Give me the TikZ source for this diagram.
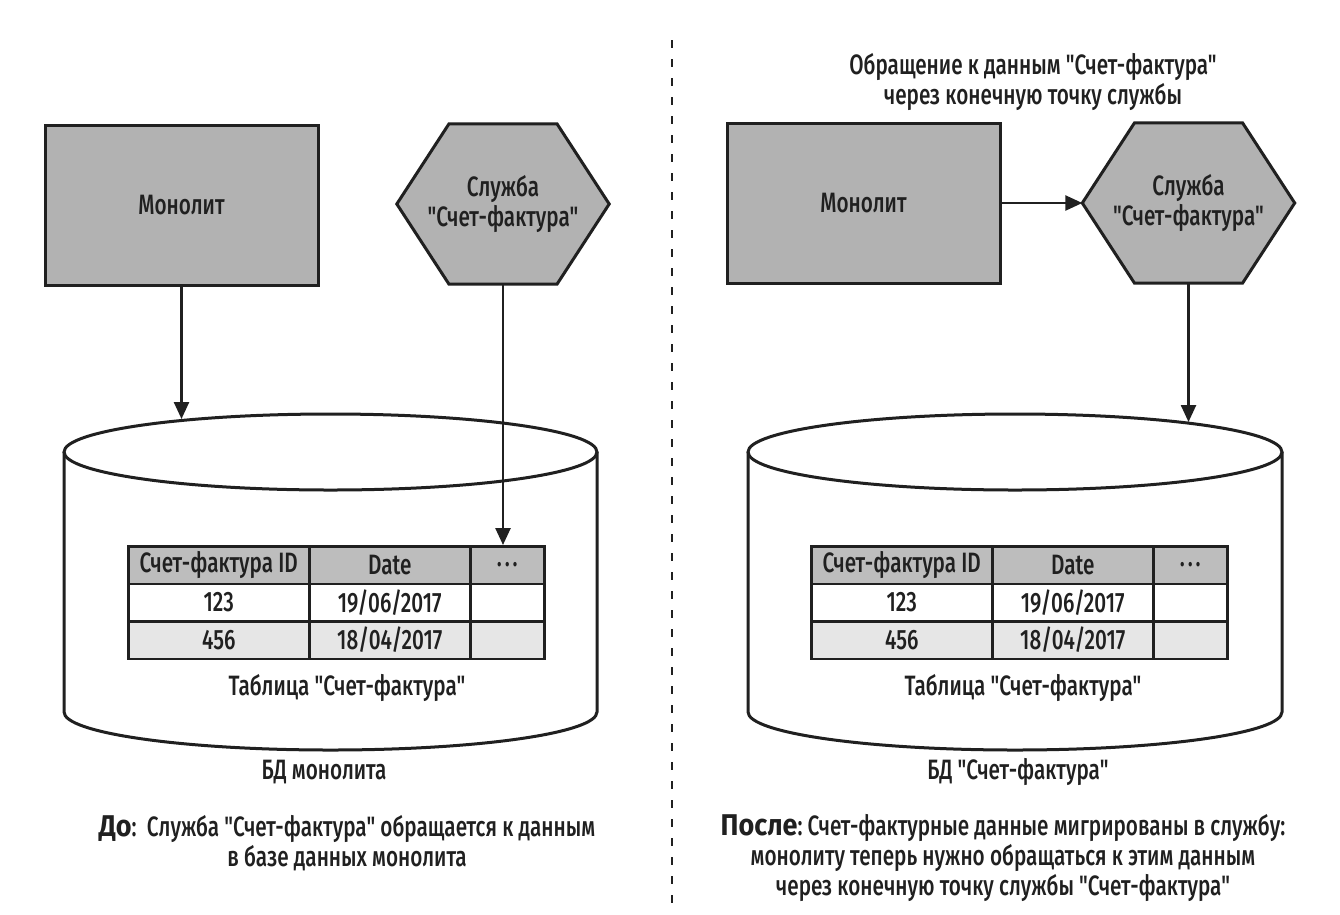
\documentclass[tikz,border=0pt]{standalone}
\usepackage{fontspec}
\setmainfont{Fira Sans Medium}[FakeStretch=0.74, Ligatures=TeXOff, BoldFont={Fira Sans Bold}]
\newfontfamily\leadfont{Fira Sans Bold}[FakeStretch=0.9, Ligatures=TeXOff]
\usetikzlibrary{arrows.meta,calc}
\pgfdeclarelayer{bg}
\pgfsetlayers{bg,main}
\definecolor{ink}{HTML}{202020}
\definecolor{boxgray}{HTML}{B2B2B2}
\definecolor{headgray}{HTML}{BDBDBD}
\definecolor{rowgray}{HTML}{E6E6E6}
\tikzset{
  txt/.style={font=\fontsize{28}{30}\selectfont, text=ink},
  box/.style={draw=ink, line width=3pt, fill=boxgray, minimum width=273pt, minimum height=160pt, inner sep=0pt, txt},
  hexbox/.style={minimum width=212pt, minimum height=160pt, inner sep=0pt, align=center, txt},
  hexshape/.style={draw=ink, line width=3pt, fill=boxgray, line join=miter},
  conn/.style={draw=ink, line width=2.5pt, -{Triangle[length=17pt,width=15pt]}},
  cyl/.style={draw=ink, line width=3pt},
  cell/.style={draw=ink, line width=2.5pt, minimum height=37.5pt, inner sep=0pt, txt, anchor=north west},
  divider/.style={draw=ink, line width=2.5pt, dash pattern=on 8pt off 11pt},
}
\newcommand\dbtab[2]{%
  \node[cell, fill=headgray, minimum width=181pt] (#1h1) at (#2,-545) {Счет-фактура ID};
  \node[cell, fill=headgray, minimum width=161pt] (#1h2) at (#2+181,-545) {Date};
  \node[cell, fill=headgray, minimum width=74pt]  (#1h3) at (#2+342,-545) {.\hspace{3pt}.\hspace{3pt}.};
  \node[cell, fill=white, minimum width=181pt] (#1a1) at (#2,-582.5) {123};
  \node[cell, fill=white, minimum width=161pt] (#1a2) at (#2+181,-582.5) {19/06/2017};
  \node[cell, fill=white, minimum width=74pt]  (#1a3) at (#2+342,-582.5) {};
  \node[cell, fill=rowgray, minimum width=181pt] (#1b1) at (#2,-620) {456};
  \node[cell, fill=rowgray, minimum width=161pt] (#1b2) at (#2+181,-620) {18/04/2017};
  \node[cell, fill=rowgray, minimum width=74pt]  (#1b3) at (#2+342,-620) {};
}
\newcommand\hexpath[1]{%
  \begin{pgfonlayer}{bg}
  \filldraw[hexshape] (#1.west) -- ($(#1.north)+(-54,0)$) -- ($(#1.north)+(54,0)$) -- (#1.east)
     -- ($(#1.south)+(54,0)$) -- ($(#1.south)+(-54,0)$) -- cycle;
  \end{pgfonlayer}
}
\begin{document}
\begin{tikzpicture}[x=1pt,y=1pt]
\useasboundingbox (0,0) rectangle (1340,-914);
\begin{pgfonlayer}{bg}
\fill[white] (0,0) rectangle (1340,-914);
\end{pgfonlayer}

% divider
\draw[divider] (672,-40) -- (672,-905);

% ---------- left: before ----------
\node[box] (monoL) at (181.5,-205) {Монолит};
\node[hexbox] (hexL) at (503,-204) {Служба\\"Счет-фактура"};
\hexpath{hexL}

\draw[cyl] (64,-452) -- (64,-712) arc[start angle=180,end angle=360,x radius=266.5pt,y radius=38pt] -- (597,-452);
\draw[cyl] (330.5,-452) ellipse[x radius=266.5pt, y radius=38pt];
\coordinate (dbLtop) at (181.5,-419);

\dbtab{tL}{127}
\node[txt] (capL) at (347,-688) {Таблица "Счет-фактура"};
\node[txt] (dbnameL) at (324,-772) {БД монолита};

\draw[conn] (monoL.south) -- (dbLtop);
\draw[conn] (hexL.south) -- (hexL.south |- tLh3.north);

\node[txt, align=center] (noteL) at (347,-843)
  {{\leadfont\fontsize{30}{30}\selectfont До}:\ \ Служба "Счет-фактура" обращается к данным\\в базе данных монолита};

% ---------- right: after ----------
\node[txt, align=center] (title) at (1033,-82) {Обращение к данным "Счет-фактура"\\через конечную точку службы};
\node[box] (monoR) at (863.5,-203) {Монолит};
\node[hexbox] (hexR) at (1188.5,-203) {Служба\\"Счет-фактура"};
\hexpath{hexR}

\draw[cyl] (748,-452) -- (748,-712) arc[start angle=180,end angle=360,x radius=267pt,y radius=38pt] -- (1282,-452);
\draw[cyl] (1015,-452) ellipse[x radius=267pt, y radius=38pt];
\coordinate (dbRtop) at (1188.5,-422);

\dbtab{tR}{810}
\node[txt] (capR) at (1023,-688) {Таблица "Счет-фактура"};
\node[txt] (dbnameR) at (1018,-772) {БД "Счет-фактура"};

\draw[conn] (monoR.east) -- (hexR.west);
\draw[conn] (hexR.south) -- (dbRtop);

\node[txt, align=center] (noteR) at (1003,-858)
  {{\leadfont\fontsize{30}{30}\selectfont После}:\ Счет-фактурные данные мигрированы в службу:\\монолиту теперь нужно обращаться к этим данным\\через конечную точку службы "Счет-фактура"};
\end{tikzpicture}
\end{document}
